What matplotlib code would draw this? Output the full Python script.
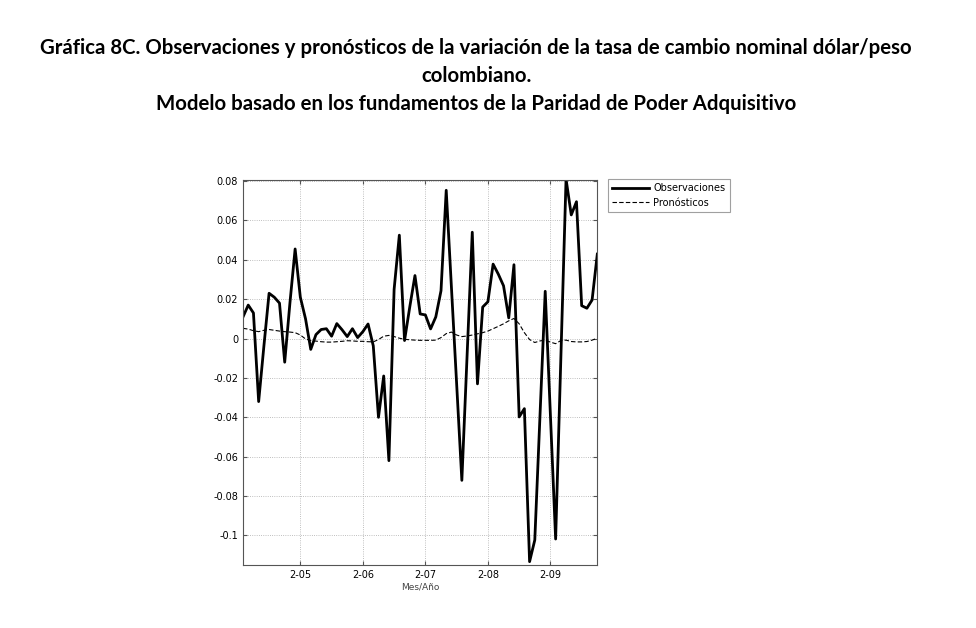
import numpy as np
import matplotlib
matplotlib.use("Agg")
import matplotlib.pyplot as plt

# variación mensual observada (mar-2004 .. nov-2009)
observaciones = [
    0.011, 0.017, 0.013, -0.032, -0.004, 0.023, 0.021, 0.018, -0.012, 0.018,
    0.0455, 0.021, 0.010, -0.0055, 0.002, 0.0046, 0.005, 0.0012, 0.0076, 0.0045,
    0.001, 0.005, 0.0005, 0.0035, 0.0074, -0.0037, -0.040, -0.019, -0.062, 0.025,
    0.0525, -0.001, 0.016, 0.032, 0.0125, 0.012, 0.0049, 0.011, 0.0243, 0.0753,
    0.026, -0.023, -0.072, -0.009, 0.054, -0.023, 0.016, 0.0187, 0.0378, 0.0327,
    0.0268, 0.0105, 0.0375, -0.0398, -0.0356, -0.1133, -0.1023, -0.039, 0.024, -0.039,
    -0.1018, -0.010, 0.081, 0.0628, 0.0695, 0.0167, 0.0154, 0.0196, 0.0429,
]
pronosticos = [
    0.0052, 0.0048, 0.0040, 0.0035, 0.0042, 0.0046, 0.0042, 0.0038, 0.0035, 0.0033,
    0.0030, 0.0018, -0.0002, -0.0010, -0.0013, -0.0016, -0.0018, -0.0018, -0.0016, -0.0014,
    -0.0011, -0.0012, -0.0014, -0.0014, -0.0016, -0.0017, -0.0005, 0.0012, 0.0016, 0.0010,
    0.0002, -0.0004, -0.0006, -0.0008, -0.0009, -0.0009, -0.0009, -0.0008, 0.0005, 0.0025,
    0.0033, 0.0018, 0.0010, 0.0013, 0.0018, 0.0024, 0.0030, 0.0038, 0.0050, 0.0062,
    0.0075, 0.0090, 0.0102, 0.0075, 0.0030, -0.0005, -0.0020, -0.0012, -0.0008, -0.0018,
    -0.0026, -0.0010, -0.0008, -0.0015, -0.0017, -0.0017, -0.0015, -0.0008, 0.0002,
]
xtick_pos = [11, 23, 35, 47, 59]
xtick_labels = ['2-05', '2-06', '2-07', '2-08', '2-09']
ytick_vals = [-0.1, -0.08, -0.06, -0.04, -0.02, 0, 0.02, 0.04, 0.06, 0.08]
ytick_labels = ['-0.1', '-0.08', '-0.06', '-0.04', '-0.02', '0', '0.02', '0.04', '0.06', '0.08']

titulo = ("Gráfica 8C. Observaciones y pronósticos de la variación de la tasa de cambio nominal dólar/peso\n"
          "colombiano.\n"
          "Modelo basado en los fundamentos de la Paridad de Poder Adquisitivo")

x = np.arange(len(observaciones))

fig = plt.figure(figsize=(9.76, 6.28), dpi=100)
ax = fig.add_axes([0.249, 0.1003, 0.363, 0.613])

ax.plot(x, observaciones, color='black', lw=2.0, label='Observaciones')
ax.plot(x, pronosticos, color='black', lw=0.8, ls=(0, (4, 2)), label='Pronósticos')

ax.set_xlim(0, len(observaciones) - 1)
ax.set_ylim(-0.115, 0.0805)
ax.set_xticks(xtick_pos)
ax.set_xticklabels(xtick_labels)
ax.set_yticks(ytick_vals)
ax.set_yticklabels(ytick_labels)
ax.tick_params(direction='in', length=3, labelsize=7, top=True, right=True, color='#555555')
ax.grid(True, ls=':', color='#aaaaaa', lw=0.6)
for s in ax.spines.values():
    s.set_color('#555555')
    s.set_linewidth(0.8)

ax.set_xlabel('Mes/Año', fontsize=6.5, color='#444444', labelpad=2)

leg = ax.legend(loc='upper left', bbox_to_anchor=(1.03, 1.003), fontsize=7,
                frameon=True, fancybox=False, handlelength=3.8, borderaxespad=0,
                labelspacing=0.45, handletextpad=0.4, borderpad=0.45)
leg.get_frame().set_edgecolor('#888888')
leg.get_frame().set_linewidth(0.8)

t = fig.text(0.488, 0.94, titulo, ha='center', va='top', fontsize=14, fontweight='bold',
             family=['Lato', 'DejaVu Sans'], linespacing=1.5)
# ajustar el tamaño para que la primera línea ocupe el ancho de la original
fig.canvas.draw()
w = t.get_window_extent(fig.canvas.get_renderer()).width
t.set_fontsize(14 * 878 / w)

fig.savefig('out.png', dpi=100, facecolor='white')
